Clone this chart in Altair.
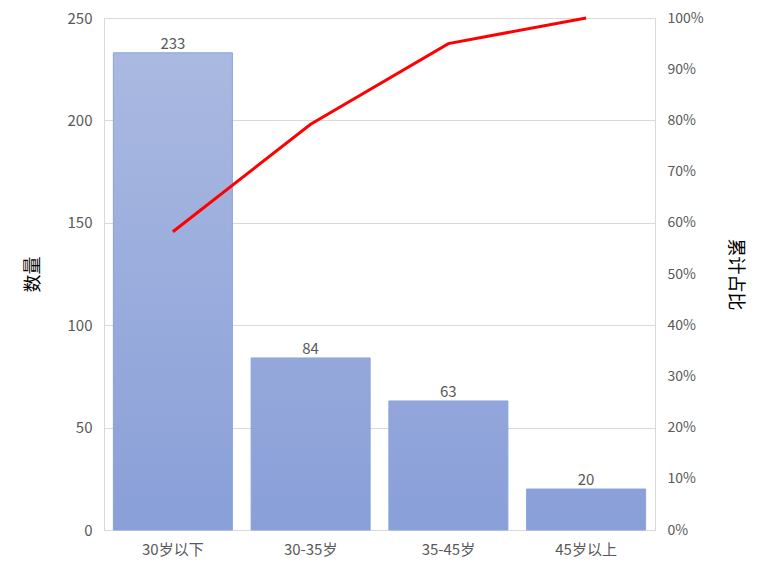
import altair as alt
import pandas as pd

categories = ["30岁以下", "30-35岁", "35-45岁", "45岁以上"]
counts = [233, 84, 63, 20]

total = sum(counts)
cum = []
s = 0
for c in counts:
    s += c
    cum.append(s / total)

df = pd.DataFrame({"cat": categories, "count": counts, "cum": cum})

FONT = "Noto Sans CJK SC"
GRAY = "#595959"

bottom = (137, 159, 216)
top = (172, 187, 226)


def mix(v):
    t = v / 250.0
    r = [round(bottom[i] + (top[i] - bottom[i]) * t) for i in range(3)]
    return "#%02x%02x%02x" % tuple(r)


xenc = alt.X(
    "cat:N",
    sort=categories,
    scale=alt.Scale(paddingInner=0.136, paddingOuter=0.068),
    axis=alt.Axis(
        title=None, labelAngle=0, ticks=False, domain=False,
        labelFont=FONT, labelFontSize=15, labelColor=GRAY, labelPadding=12,
    ),
)
yenc = alt.Y(
    "count:Q",
    scale=alt.Scale(domain=[0, 250], nice=False),
    axis=alt.Axis(
        title="数量", values=[0, 50, 100, 150, 200, 250], ticks=False, domain=False,
        labelFont=FONT, labelFontSize=15, labelColor=GRAY, labelPadding=12,
        titleFont=FONT, titleFontSize=18, titleFontWeight="normal", titleColor="#000000",
        titlePadding=25, gridColor="#d9d9d9",
    ),
)

bar_layers = []
for cat, v in zip(categories, counts):
    grad = alt.Gradient(
        gradient="linear",
        stops=[alt.GradientStop(color=mix(v), offset=0),
               alt.GradientStop(color=mix(0), offset=1)],
        x1=0, x2=0, y1=0, y2=1,
    )
    bar_layers.append(
        alt.Chart(df).transform_filter(alt.datum.cat == cat)
        .mark_bar(fill=grad, stroke="#8aa3da", strokeWidth=1)
        .encode(x=xenc, y=yenc)
    )

text = alt.Chart(df).mark_text(
    dy=-9, font=FONT, fontSize=15, color=GRAY
).encode(x=xenc, y=yenc, text="count:Q")

left = alt.layer(*bar_layers, text)

line = alt.Chart(df).mark_line(color="#ff0000", strokeWidth=3).encode(
    x=xenc,
    y=alt.Y(
        "cum:Q",
        scale=alt.Scale(domain=[0, 1], nice=False),
        axis=alt.Axis(
            title="累计占比", orient="right", format=".0%",
            values=[i / 10 for i in range(11)], ticks=False, domain=False, grid=False,
            labelFont=FONT, labelFontSize=14, labelColor=GRAY, labelPadding=12,
            titleFont=FONT, titleFontSize=18, titleFontWeight="normal", titleColor="#000000",
            titlePadding=22,
        ),
    ),
)

chart = alt.layer(left, line).resolve_scale(y="independent").properties(
    width=551, height=512,
    autosize=alt.AutoSizeParams(type="none"),
    padding={"left": 96, "top": 10, "right": 100, "bottom": 50},
).configure_view(stroke="#d9d9d9")

chart.save("out.html", embed_options={"renderer": "svg", "actions": False})
